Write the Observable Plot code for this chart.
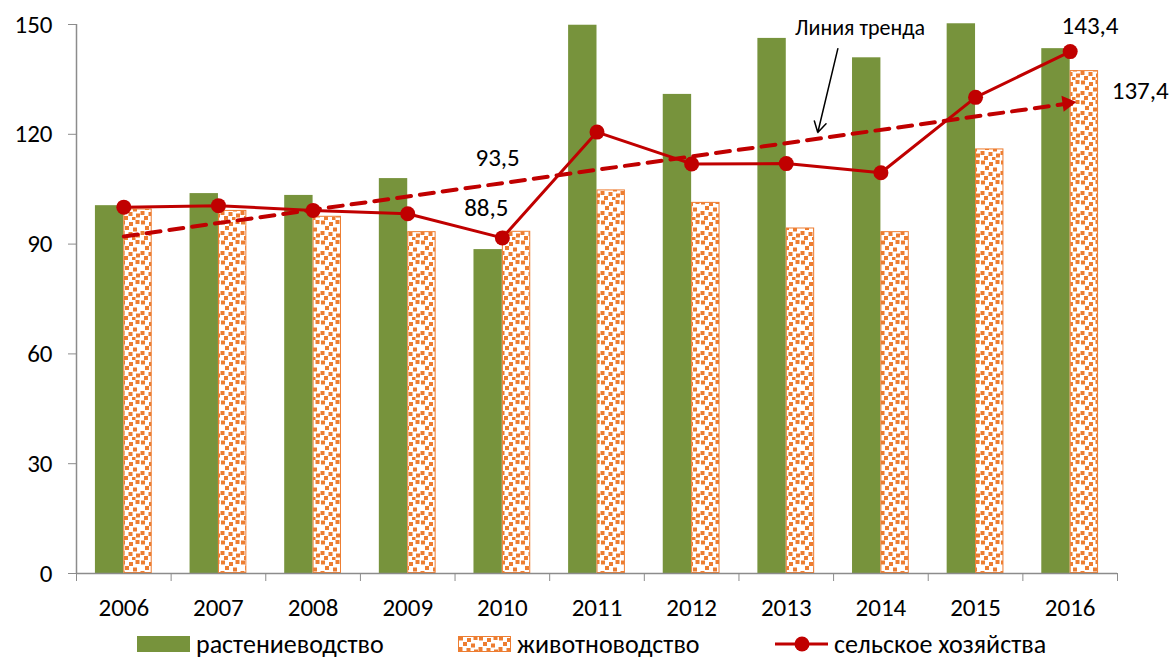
<!DOCTYPE html>
<html><head><meta charset="utf-8">
<script src="https://cdn.jsdelivr.net/npm/d3@7"></script>
<script src="https://cdn.jsdelivr.net/npm/@observablehq/plot@0.6"></script>
<style>
body{margin:0;background:#fff;font-family:Carlito,Lato,Roboto,sans-serif;}
#wrap{position:relative;width:1172px;height:659px;overflow:hidden;}
.leg{position:absolute;top:632px;height:24px;display:flex;align-items:center;font-size:26px;color:#000;white-space:nowrap;}
.leg svg{margin-right:6px;display:block;}
</style></head><body>
<svg width="0" height="0" style="position:absolute">
<defs>
<pattern id="dots" patternUnits="userSpaceOnUse" width="20" height="20">
<rect width="20" height="20" fill="#fff"/>
<rect x="1" y="0.5" width="4" height="4" fill="#ED7D31"/>
<rect x="9" y="2" width="4" height="4" fill="#ED7D31"/>
<rect x="15.5" y="0" width="4" height="4" fill="#ED7D31"/>
<rect x="5" y="6" width="4" height="4" fill="#ED7D31"/>
<rect x="13" y="7.5" width="4" height="4" fill="#ED7D31"/>
<rect x="0.5" y="11" width="4" height="4" fill="#ED7D31"/>
<rect x="8.5" y="12" width="4" height="4" fill="#ED7D31"/>
<rect x="16" y="13.5" width="4" height="4" fill="#ED7D31"/>
<rect x="4" y="16" width="4" height="4" fill="#ED7D31"/>
<rect x="12" y="17" width="3.5" height="3" fill="#ED7D31"/>
</pattern>
</defs></svg>
<div id="wrap">
<div id="chart"></div>
<div class="leg" style="left:137px"><svg width="53" height="16"><rect width="53" height="16" fill="#77933C"/></svg><span>растениеводство</span></div>
<div class="leg" style="left:458px"><svg width="53" height="16"><rect x="0.5" y="0.5" width="52" height="15" fill="url(#dots)" stroke="#ED7D31" stroke-width="1"/></svg><span>животноводство</span></div>
<div class="leg" style="left:775px"><svg width="53" height="20"><line x1="0" y1="10" x2="53" y2="10" stroke="#C00000" stroke-width="3"/><circle cx="27" cy="10" r="7.5" fill="#C00000"/></svg><span>сельское хозяйства</span></div>
</div>
<script>
const years = [2006, 2007, 2008, 2009, 2010, 2011, 2012, 2013, 2014, 2015, 2016];
const crop = [100.5, 103.8, 103.3, 107.9, 88.5, 149.8, 130.9, 146.2, 140.9, 150.2, 143.4];
const livestock = [99.6, 99.2, 97.6, 93.4, 93.5, 104.8, 101.4, 94.4, 93.4, 116.0, 137.4];
const agriculture = [100.1, 100.5, 99.2, 98.3, 91.7, 120.6, 111.9, 112.0, 109.5, 130.1, 142.6];
const yTicks = [0, 30, 60, 90, 120, 150];
const trendYears = [2006, 2016];
const trendValues = [92.1, 128.5];
const labelTexts = ["93,5", "88,5", "143,4", "137,4"];
const labelX = [2009.95, 2009.83, 2016.21, 2016.74];
const labelY = [113.4, 99.9, 149.7, 131.7];
const noteText = ["Линия тренда"];
const noteX = [2013.78];
const noteY = [149.0];
const noteArrowX = [2013.545, 2013.333];
const noteArrowY = [143.4, 120.5];

const data = years.map((y, i) => ({year: y, crop: crop[i], livestock: livestock[i], agri: agriculture[i]}));
const trend = trendYears.map((y, i) => ({year: y, value: trendValues[i]}));
const trendEnd = [trend[trend.length - 1]];
const labels = labelTexts.map((t, i) => ({text: t, x: labelX[i], y: labelY[i]}));
const notes = noteText.map((t, i) => ({text: t, x: noteX[i], y: noteY[i]}));
const noteArrow = [{x1: noteArrowX[0], y1: noteArrowY[0], x2: noteArrowX[1], y2: noteArrowY[1]}];
const halfYears = d3.range(years[0] - 0.5, years[years.length - 1] + 1, 1);
const bw = 0.3;
const FONT = "Carlito, Lato, Roboto, sans-serif";
const AX = "#8c8c8c";

const chart = Plot.plot({
  width: 1172, height: 628,
  marginLeft: 76, marginRight: 55, marginTop: 24, marginBottom: 55,
  x: {type: "linear", domain: [2005.5, 2016.5], axis: null},
  y: {domain: [0, 150], axis: null},
  style: {fontFamily: FONT, fontSize: "25px", color: "#000", background: "#fff", overflow: "visible"},
  marks: [
    Plot.rectY(data, {x1: d => d.year - bw, x2: d => d.year, y: "crop", fill: "#77933C"}),
    Plot.rectY(data, {x1: d => d.year, x2: d => d.year + bw, y: "livestock", fill: "url(#dots)", stroke: "#ED7D31", strokeWidth: 1, inset: 0.5}),
    Plot.ruleY([0], {stroke: AX, strokeWidth: 1.5}),
    Plot.ruleX([2005.5], {stroke: AX, strokeWidth: 1.5}),
    Plot.axisY({ticks: yTicks, tickSize: 8, tickPadding: 16, stroke: AX, fill: "#000", fontSize: 25, tickFormat: d => String(d)}),
    Plot.axisX({ticks: halfYears, tickSize: 8, tickFormat: () => "", stroke: AX}),
    Plot.axisX({ticks: years, tickSize: 0, tickPadding: 25, fill: "#000", fontSize: 25, tickFormat: d => String(d)}),
    Plot.line(trend, {x: "year", y: "value", stroke: "#C00000", strokeWidth: 4, strokeDasharray: "14,9"}),
    Plot.dot(trendEnd, {x: "year", y: "value", symbol: "triangle", r: 6, fill: "#C00000", rotate: 82, dx: -3}),
    Plot.line(data, {x: "year", y: "agri", stroke: "#C00000", strokeWidth: 3}),
    Plot.dot(data, {x: "year", y: "agri", r: 7.5, fill: "#C00000"}),
    Plot.text(labels, {x: "x", y: "y", text: "text", fontSize: 25, fill: "#000"}),
    Plot.text(notes, {x: "x", y: "y", text: "text", fontSize: 22, fill: "#000"}),
    Plot.arrow(noteArrow, {x1: "x1", y1: "y1", x2: "x2", y2: "y2", stroke: "#000", strokeWidth: 1.5, headLength: 12})
  ]
});
document.getElementById("chart").appendChild(chart);
</script>
</body></html>
